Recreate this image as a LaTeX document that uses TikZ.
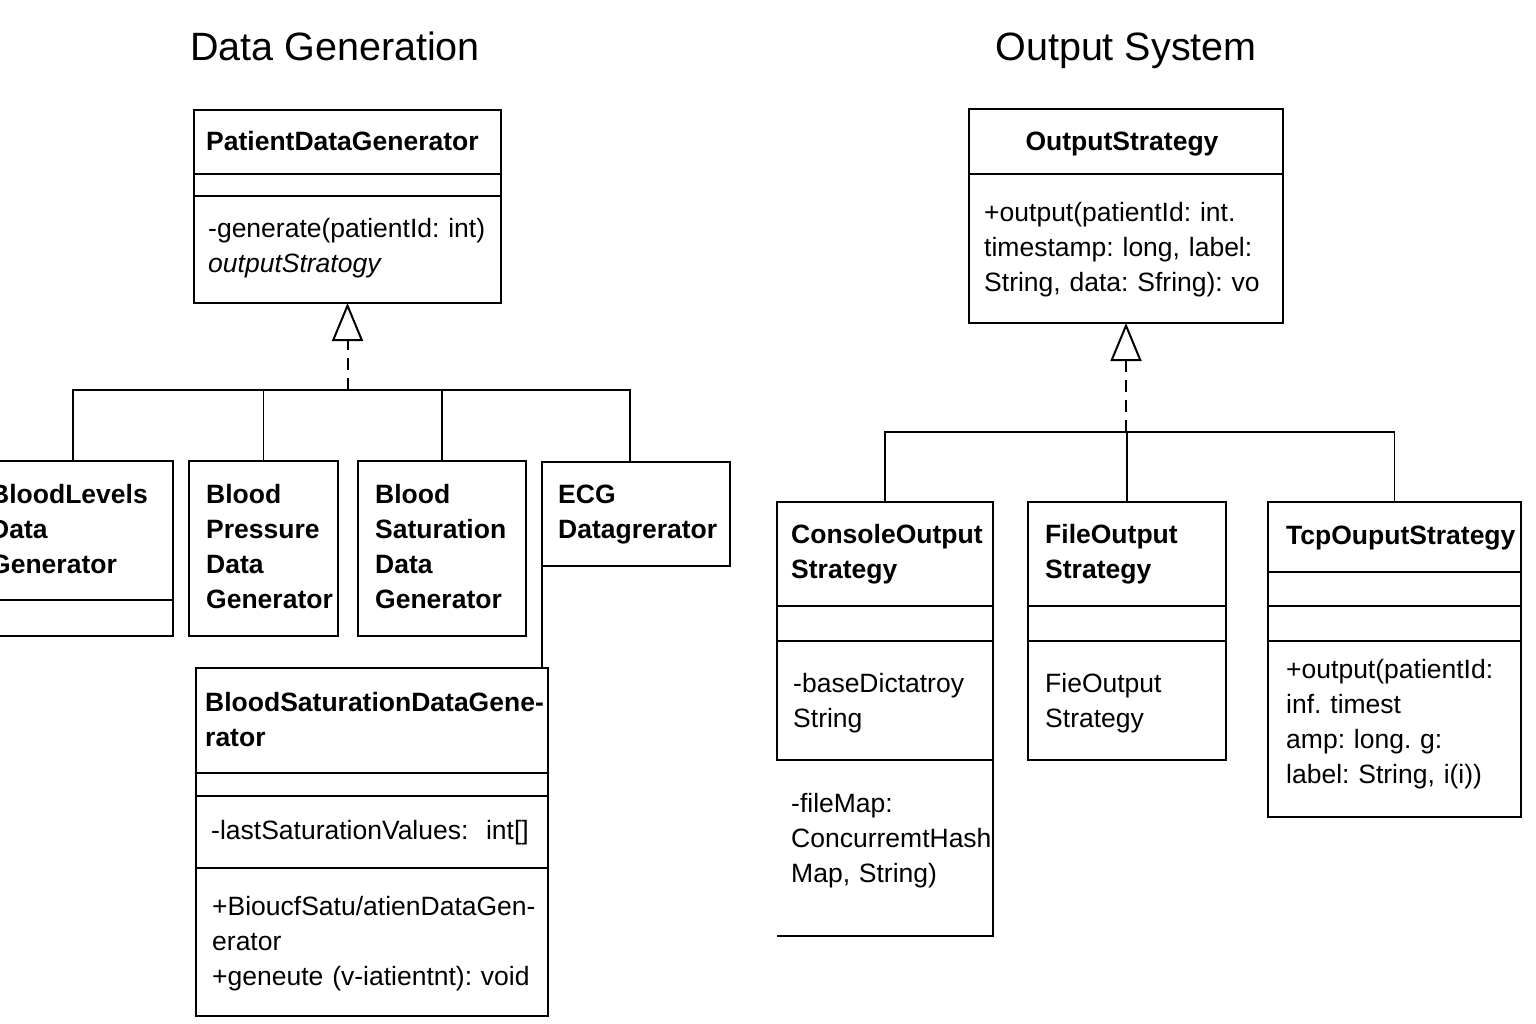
\documentclass[tikz,border=0pt]{standalone}
\usepackage{fontspec}
\setmainfont{Liberation Sans}
\usetikzlibrary{positioning,arrows.meta}

\tikzset{
  comp/.style 2 args={draw, line width=2pt, inner sep=0pt, outer sep=0pt,
    minimum width=#1pt, minimum height=#2pt},
  txt/.style={anchor=base west, align=left, text width=380pt, inner sep=0pt,
    font=\fontsize{26.5}{35}\selectfont\frenchspacing},
  cname/.style={txt, font=\fontsize{26.5}{35}\selectfont\bfseries},
  heading/.style={anchor=base, inner sep=0pt, font=\fontsize{39.5}{47}\selectfont},
  hier/.style={line width=1.8pt},
  realize/.style={line width=2pt, dash pattern=on 12pt off 8pt,
    -{Triangle[open, length=38pt, width=31pt]}}
}

\begin{document}
\begin{tikzpicture}[x=1pt, y=-1pt]
  \clip (0,0) rectangle (1536,1024);
  % Headings
  \node[heading] (t-gen) at (335,61) {Data Generation};
  \node[heading] (t-out) at (1126,61) {Output System};

  % Data generation: interface
  \node[comp={307}{64}, anchor=north west] (pdg) at (194,110) {};
  \node[comp={307}{22}, below=0pt of pdg] (pdg-a) {};
  \node[comp={307}{107}, below=0pt of pdg-a] (pdg-m) {};
  % Data generation: generators
  \node[comp={200}{139}, anchor=north west] (bldg) at (-27,461) {};
  \node[comp={200}{36}, below=0pt of bldg] (bldg-a) {};
  \node[comp={149}{175}, anchor=north west] (bpdg) at (189,461) {};
  \node[comp={168}{175}, anchor=north west] (bsg) at (358,461) {};
  \node[comp={188}{104}, anchor=north west] (ecg) at (542,462) {};
  % Data generation: saturation class
  \node[comp={352}{105}, anchor=north west] (bsdg) at (196,668) {};
  \node[comp={352}{23}, below=0pt of bsdg] (bsdg-a) {};
  \node[comp={352}{72}, below=0pt of bsdg-a] (bsdg-b) {};
  \node[comp={352}{148}, below=0pt of bsdg-b] (bsdg-m) {};

  % Output system: interface
  \node[comp={314}{65}, anchor=north west] (os) at (969,109) {};
  \node[comp={314}{149}, below=0pt of os] (os-m) {};
  % Output system: strategies
  \node[comp={216}{104}, anchor=north west] (cos) at (777,502) {};
  \node[comp={216}{35}, below=0pt of cos] (cos-a) {};
  \node[comp={216}{119}, below=0pt of cos-a] (cos-b) {};
  \node[comp={216}{176}, draw=none, below=0pt of cos-b] (cos-f) {};
  \node[comp={198}{104}, anchor=north west] (fos) at (1028,502) {};
  \node[comp={198}{35}, below=0pt of fos] (fos-a) {};
  \node[comp={198}{119}, below=0pt of fos-a] (fos-b) {};
  \node[comp={253}{70}, anchor=north west] (tos) at (1268,502) {};
  \node[comp={253}{34}, below=0pt of tos] (tos-a) {};
  \node[comp={253}{35}, below=0pt of tos-a] (tos-b) {};
  \node[comp={253}{176}, below=0pt of tos-b] (tos-m) {};
  \draw[line width=2pt] (cos-f.north east) -- (cos-f.south east) -- (cos-f.south west);

  % Texts
  \node[cname] (pdg-t) at ([shift={(12,41)}]pdg.north west) {PatientDataGenerator};
  \node[txt] (pdg-mt) at ([shift={(14,42)}]pdg-m.north west) {-generate(patientId: int)\\ \itshape outputStratogy};
  \node[cname] (bldg-t) at ([shift={(17,42)}]bldg.north west) {BloodLevels\\Data\\Generator};
  \node[cname] (bpdg-t) at ([shift={(17,42)}]bpdg.north west) {Blood\\Pressure\\Data\\Generator};
  \node[cname] (bsg-t) at ([shift={(17,42)}]bsg.north west) {Blood\\Saturation\\Data\\Generator};
  \node[cname] (ecg-t) at ([shift={(16,41)}]ecg.north west) {ECG\\Datagrerator};
  \node[cname] (bsdg-t) at ([shift={(9,43)}]bsdg.north west) {BloodSaturationDataGene-\\rator};
  \node[txt] (bsdg-bt) at ([shift={(15,43)}]bsdg-b.north west) {-lastSaturationValues:\ \ int[]};
  \node[txt] (bsdg-mt) at ([shift={(16,47)}]bsdg-m.north west) {+BioucfSatu/atienDataGen-\\erator\\+geneute (v-iatientnt): void};
  \node[heading, font=\fontsize{26.5}{35}\selectfont\bfseries] (os-t) at ([shift={(153,42)}]os.north west) {OutputStrategy};
  \node[txt] (os-mt) at ([shift={(15,48)}]os-m.north west) {+output(patientId: int.\\timestamp: long, label:\\String, data: Sfring): vo};
  \node[cname] (cos-t) at ([shift={(14,41)}]cos.north west) {ConsoleOutput\\Strategy};
  \node[txt] (cos-bt) at ([shift={(16,51)}]cos-b.north west) {-baseDictatroy\\String};
  \node[txt] (cos-ft) at ([shift={(14,52)}]cos-f.north west) {-fileMap:\\ConcurremtHash\\Map, String)};
  \node[cname] (fos-t) at ([shift={(17,41)}]fos.north west) {FileOutput\\Strategy};
  \node[txt] (fos-bt) at ([shift={(17,51)}]fos-b.north west) {FieOutput\\Strategy};
  \node[cname] (tos-t) at ([shift={(18,42)}]tos.north west) {TcpOuputStrategy};
  \node[txt] (tos-mt) at ([shift={(18,37)}]tos-m.north west) {+output(patientId:\\inf. timest\\amp: long. g:\\label: String, i(i))};

  % Realization, data generation
  \coordinate (jl) at (pdg-m.south |- 0,390);
  \draw[realize] (jl) -- (pdg-m.south);
  \foreach \c in {bldg, bpdg, bsg}
    \draw[hier] (\c.north) |- (jl);
  \draw[hier] ([xshift=-6pt]ecg.north) |- (jl);
  \draw[hier] (ecg.south west) -- (ecg.south west |- bsdg.north);

  % Realization, output system
  \coordinate (jr) at (os-m.south |- 0,432);
  \draw[realize] (jr) -- (os-m.south);
  \foreach \c in {cos, fos, tos}
    \draw[hier] (\c.north) |- (jr);
\end{tikzpicture}
\end{document}
